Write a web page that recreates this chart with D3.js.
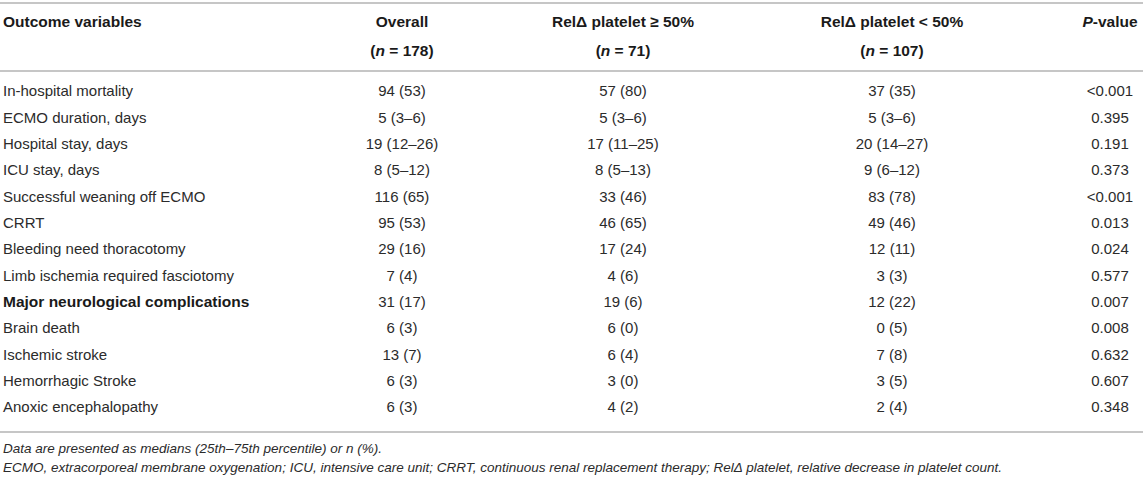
<!DOCTYPE html>
<html>
<head>
<meta charset="utf-8">
<script src="https://cdn.jsdelivr.net/npm/d3@7"></script>
<style>
  body { margin: 0; background: #fff; }
  text { font-family: "Liberation Sans", Arial, Helvetica, sans-serif; }
</style>
</head>
<body>
<div id="container"></div>
<script>
const width = 1143
const height = 479

// table content
const labels = [
  'In-hospital mortality', 'ECMO duration, days', 'Hospital stay, days', 'ICU stay, days',
  'Successful weaning off ECMO', 'CRRT', 'Bleeding need thoracotomy',
  'Limb ischemia required fasciotomy', 'Major neurological complications', 'Brain death',
  'Ischemic stroke', 'Hemorrhagic Stroke', 'Anoxic encephalopathy'
]
const overall = ['94 (53)', '5 (3–6)', '19 (12–26)', '8 (5–12)', '116 (65)', '95 (53)', '29 (16)',
  '7 (4)', '31 (17)', '6 (3)', '13 (7)', '6 (3)', '6 (3)']
const highDrop = ['57 (80)', '5 (3–6)', '17 (11–25)', '8 (5–13)', '33 (46)', '46 (65)', '17 (24)',
  '4 (6)', '19 (6)', '6 (0)', '6 (4)', '3 (0)', '4 (2)']
const lowDrop = ['37 (35)', '5 (3–6)', '20 (14–27)', '9 (6–12)', '83 (78)', '49 (46)', '12 (11)',
  '3 (3)', '12 (22)', '0 (5)', '7 (8)', '3 (5)', '2 (4)']
const pValues = ['<0.001', '0.395', '0.191', '0.373', '<0.001', '0.013', '0.024',
  '0.577', '0.007', '0.008', '0.632', '0.607', '0.348']
const boldRows = ['Major neurological complications']

const headers = [
  { key: 'overall', line1: [['Overall', false]], line2: [['(', false], ['n', true], [' = 178)', false]] },
  { key: 'high', line1: [['RelΔ platelet ≥ 50%', false]], line2: [['(', false], ['n', true], [' = 71)', false]] },
  { key: 'low', line1: [['RelΔ platelet < 50%', false]], line2: [['(', false], ['n', true], [' = 107)', false]] },
  { key: 'p', line1: [['P', true], ['-value', false]], line2: [] }
]
const notes = [
  'Data are presented as medians (25th–75th percentile) or n (%).',
  'ECMO, extracorporeal membrane oxygenation; ICU, intensive care unit; CRRT, continuous renal replacement therapy; RelΔ platelet, relative decrease in platelet count.'
]

const rows = labels.map((label, i) => ({
  label,
  overall: overall[i],
  high: highDrop[i],
  low: lowDrop[i],
  p: pValues[i],
  bold: boldRows.includes(label)
}))

const svg = d3.select('#container')
  .append('svg')
  .attr('width', width)
  .attr('height', height)

const x = d3.scaleOrdinal()
  .domain(['overall', 'high', 'low', 'p'])
  .range([402, 623, 892, 1110])

const y = d3.scalePoint()
  .domain(labels)
  .range([91, 407])

const ruleColor = '#b3b3b3'
const rules = [3, 71, 432]
svg.selectAll('line.rule')
  .data(rules)
  .enter()
  .append('line')
  .attr('class', 'rule')
  .attr('x1', 0)
  .attr('x2', width)
  .attr('y1', d => d)
  .attr('y2', d => d)
  .attr('stroke', ruleColor)
  .attr('stroke-width', 1.6)

// header
const head = svg.append('g')
  .attr('font-size', 15.5)
  .attr('font-weight', 'bold')
  .attr('fill', '#1a1a1a')

head.append('text')
  .attr('x', 3)
  .attr('y', 22)
  .attr('dy', '0.35em')
  .text('Outcome variables')

headers.forEach(h => {
  [[h.line1, 22], [h.line2, 51]].forEach(([parts, yy]) => {
    if (!parts.length) return
    const t = head.append('text')
      .attr('x', x(h.key))
      .attr('y', yy)
      .attr('dy', '0.35em')
      .attr('text-anchor', 'middle')
    parts.forEach(([s, it]) => {
      t.append('tspan').attr('font-style', it ? 'italic' : 'normal').text(s)
    })
  })
})

// body
const body = svg.append('g')
  .attr('font-size', 15)
  .attr('fill', '#2b2b2b')

const rowG = body.selectAll('g.row')
  .data(rows)
  .enter()
  .append('g')
  .attr('class', 'row')
  .attr('transform', d => `translate(0,${y(d.label)})`)

rowG.append('text')
  .attr('x', 3)
  .attr('dy', '0.35em')
  .attr('font-weight', d => d.bold ? 'bold' : 'normal')
  .attr('font-size', d => d.bold ? 15.5 : null)
  .attr('fill', d => d.bold ? '#1a1a1a' : null)
  .text(d => d.label)

;['overall', 'high', 'low', 'p'].forEach(k => {
  rowG.append('text')
    .attr('x', x(k))
    .attr('dy', '0.35em')
    .attr('text-anchor', 'middle')
    .text(d => d[k])
})

// footnotes
svg.append('g')
  .attr('font-size', 13.5)
  .attr('font-style', 'italic')
  .attr('fill', '#2b2b2b')
  .selectAll('text')
  .data(notes)
  .enter()
  .append('text')
  .attr('x', 3)
  .attr('y', (d, i) => 448 + i * 19)
  .attr('dy', '0.35em')
  .text(d => d)
</script>
</body>
</html>
